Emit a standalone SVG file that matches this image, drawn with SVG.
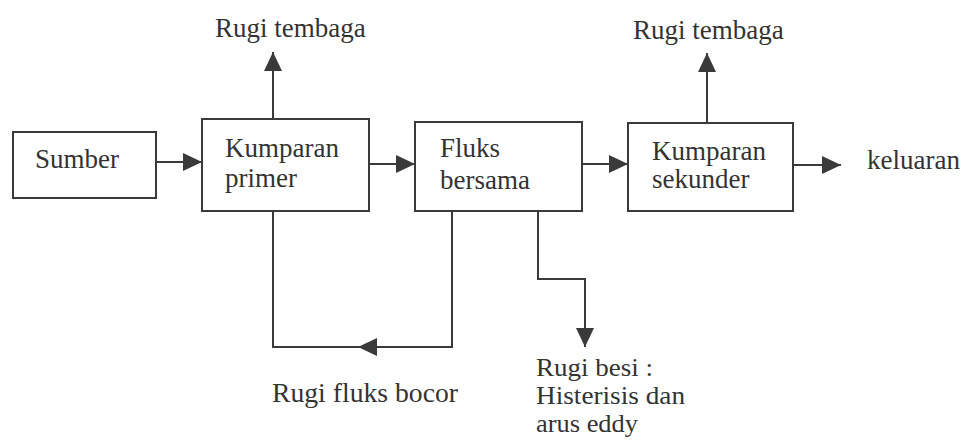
<svg xmlns="http://www.w3.org/2000/svg" width="966" height="441" viewBox="0 0 966 441">
<style>
  .box { fill: #ffffff; stroke: #3a3a3a; stroke-width: 2; }
  .lbl { font-family: "Liberation Serif", "Times New Roman", serif; font-size: 27px; fill: #333333; }
  .sm { font-size: 25px; }
  .wire { fill: none; stroke: #3a3a3a; stroke-width: 2; }
</style>
<defs>
  <marker id="arr" markerUnits="userSpaceOnUse" markerWidth="19" markerHeight="18" refX="19" refY="9" orient="auto">
    <path d="M0,0 L19,9 L0,18 z" fill="#3a3a3a"/>
  </marker>
</defs>
<rect width="966" height="441" fill="#ffffff"/>
<g id="connectors">
  <path class="wire" d="M156,162 H202" marker-end="url(#arr)"/>
  <path class="wire" d="M273,119 V52" marker-end="url(#arr)"/>
  <path class="wire" d="M369,164 H415" marker-end="url(#arr)"/>
  <path class="wire" d="M582,164 H628" marker-end="url(#arr)"/>
  <path class="wire" d="M707,123 V53" marker-end="url(#arr)"/>
  <path class="wire" d="M793,165 H841" marker-end="url(#arr)"/>
  <path class="wire" d="M452,211 V347 H358" marker-end="url(#arr)"/>
  <path class="wire" d="M358,347 H273 V211"/>
  <path class="wire" d="M538,211 V279 H585 V347" marker-end="url(#arr)"/>
</g>
<g id="sumber">
  <rect class="box" x="13" y="132" width="143" height="66"/>
  <text class="lbl" x="35" y="168">Sumber</text>
</g>
<g id="kumparan-primer">
  <rect class="box" x="202" y="119" width="167" height="92"/>
  <text class="lbl" x="225" y="157">Kumparan</text>
  <text class="lbl" x="225" y="187">primer</text>
</g>
<g id="fluks-bersama">
  <rect class="box" x="415" y="122" width="167" height="89"/>
  <text class="lbl" x="440" y="157">Fluks</text>
  <text class="lbl" x="440" y="189">bersama</text>
</g>
<g id="kumparan-sekunder">
  <rect class="box" x="628" y="123" width="165" height="88"/>
  <text class="lbl" x="652" y="160">Kumparan</text>
  <text class="lbl" x="652" y="188">sekunder</text>
</g>
<g id="rugi-tembaga-1">
  <text class="lbl" x="215" y="37">Rugi tembaga</text>
</g>
<g id="rugi-tembaga-2">
  <text class="lbl" x="633" y="39">Rugi tembaga</text>
</g>
<g id="keluaran">
  <text class="lbl" x="867" y="169">keluaran</text>
</g>
<g id="rugi-fluks-bocor">
  <text class="lbl" x="272" y="402" textLength="186" lengthAdjust="spacingAndGlyphs">Rugi fluks bocor</text>
</g>
<g id="rugi-besi">
  <text class="lbl sm" x="536" y="376" textLength="117" lengthAdjust="spacingAndGlyphs">Rugi besi :</text>
  <text class="lbl sm" x="536" y="404" textLength="149" lengthAdjust="spacingAndGlyphs">Histerisis dan</text>
  <text class="lbl sm" x="536" y="432" textLength="102" lengthAdjust="spacingAndGlyphs">arus eddy</text>
</g>
</svg>
